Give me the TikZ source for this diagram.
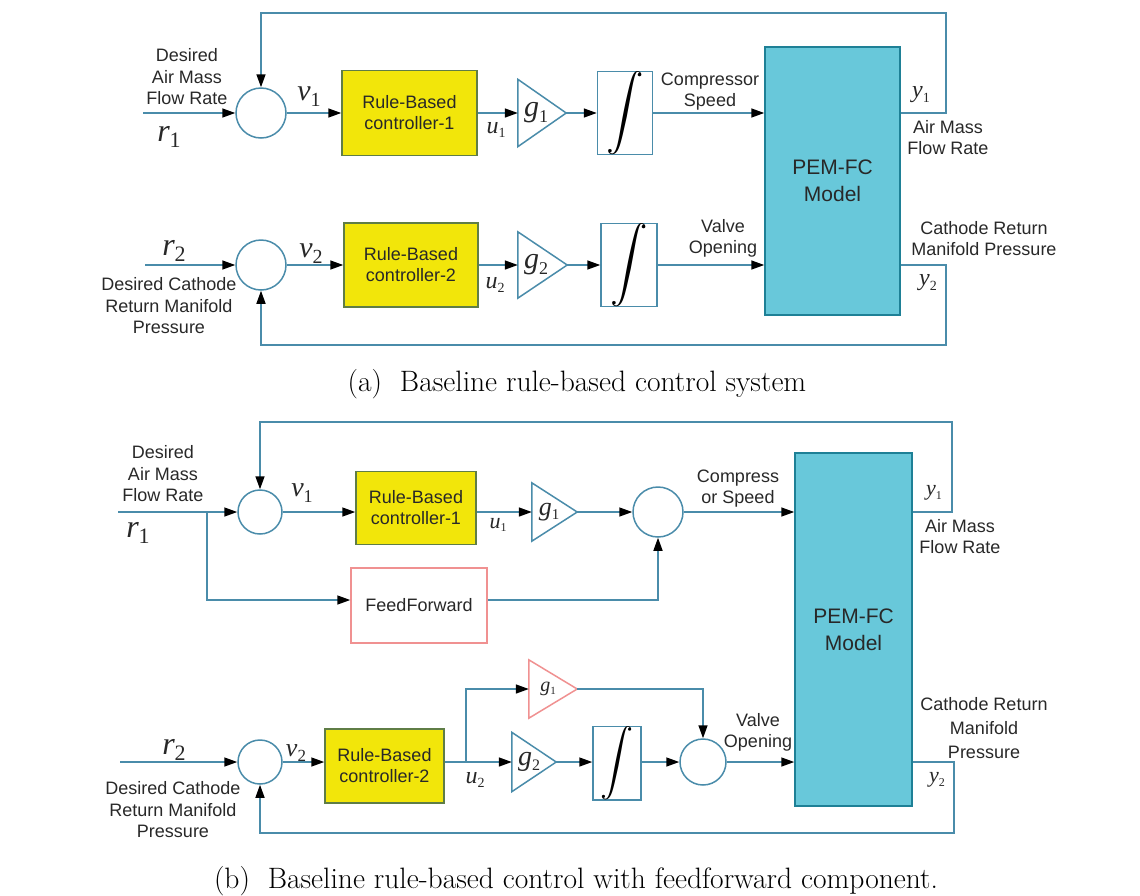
\documentclass[tikz,border=0pt]{standalone}
\usepackage{fontspec}
\usepackage{graphicx}
\usetikzlibrary{arrows.meta}
\newfontfamily\lfont{Liberation Sans}
\newfontfamily\mfont{Liberation Serif}
\definecolor{linec}{RGB}{74,140,170}
\definecolor{ctrly}{RGB}{242,230,10}
\definecolor{ctrlb}{RGB}{95,125,70}
\definecolor{pemf}{RGB}{104,200,218}
\definecolor{pemb}{RGB}{30,128,150}
\definecolor{pinkc}{RGB}{240,145,145}
\definecolor{txt}{RGB}{40,40,40}
\newcommand\ml[4]{{\mfont\itshape\fontsize{#1}{#1}\selectfont #3}{\mfont\fontsize{#2}{#2}\selectfont\raisebox{-0.3em}{#4}}}
\newcommand\intsym[1]{\resizebox{!}{#1}{$\displaystyle\int$}}
\tikzset{
  ln/.style={draw=linec, line width=1.5pt},
  arr/.style={ln, -{Triangle[color=black,fill=black,length=13pt,width=9pt]}},
  sumc/.style={circle, draw=linec, line width=1.5pt, fill=white, inner sep=0pt, minimum size=#1},
  ctrl/.style={draw=ctrlb, fill=ctrly, line width=1.5pt, align=center, text=txt,
               font=\lfont\fontsize{18}{21}\selectfont, inner sep=0pt},
  blk/.style={draw=linec, line width=1.5pt, fill=white, inner sep=0pt},
  ffb/.style={draw=pinkc, line width=1.5pt, fill=white, inner sep=0pt, text=txt,
              font=\lfont\fontsize{18}{21}\selectfont},
  pem/.style={draw=pemb, fill=pemf, line width=1.5pt, align=center, text=txt,
              font=\lfont\fontsize{21}{27}\selectfont, inner sep=0pt},
  gainb/.style={inner sep=0pt},
  tri/.style={ln, fill=white},
  lab/.style={font=\lfont\fontsize{18}{21.5}\selectfont, align=center, text=txt, inner sep=0pt},
  mlab/.style={text=txt, inner sep=0pt},
  captxt/.style={font=\fontsize{29.5}{29.5}\selectfont, inner sep=0pt, text=black},
}
\begin{document}
\begin{tikzpicture}[x=1pt,y=-1pt]
\useasboundingbox (0,0) rectangle (1140,895);

% ================= (a) =================
\node[sumc=50] (aS1) at (261,113) {};
\node[sumc=50] (aS2) at (261,265) {};
\node[ctrl, minimum width=135, minimum height=85] (aC1) at (409.5,113) {Rule-Based\\controller-1};
\node[ctrl, minimum width=134, minimum height=84] (aC2) at (411,265) {Rule-Based\\controller-2};
\node[gainb, minimum width=48, minimum height=67] (aG1) at (542,113) {};
\node[gainb, minimum width=49, minimum height=66] (aG2) at (542.5,265) {};
\draw[tri] (aG1.north west) -- (aG1.east) -- (aG1.south west) -- cycle;
\draw[tri] (aG2.north west) -- (aG2.east) -- (aG2.south west) -- cycle;
\node[mlab] (aG1t) at (536,113) {\ml{30}{18}{g}{1}};
\node[mlab] (aG2t) at (536,265) {\ml{30}{18}{g}{2}};
\node[blk, minimum width=55, minimum height=68] (aI1) at (625,113) {\intsym{51pt}};
\node[blk, minimum width=56, minimum height=67] (aI2) at (629,265) {\intsym{51pt}};
\node[pem, minimum width=135, minimum height=268] (aP) at (832.5,181) {PEM-FC\\Model};

\coordinate (aIn1) at (143,113);
\coordinate (aIn2) at (145,265);
\coordinate (aTR) at (946,13);
\coordinate (aTL) at (261,13);
\coordinate (aBR) at (946,345);
\coordinate (aBL) at (261,345);

\draw[arr] (aIn1) -- (aS1.west);
\draw[arr] (aS1.east) -- (aC1.west);
\draw[arr] (aC1.east) -- (aG1.west);
\draw[arr] (aG1.east) -- (aI1.west);
\draw[arr] (aI1.east) -- (aP.west |- aI1);
\draw[arr] (aP.east |- aS1) -- (aTR |- aS1) -- (aTR) -- (aTL) -- (aS1.north);

\draw[arr] (aIn2) -- (aS2.west);
\draw[arr] (aS2.east) -- (aC2.west);
\draw[arr] (aC2.east) -- (aG2.west);
\draw[arr] (aG2.east) -- (aI2.west);
\draw[arr] (aI2.east) -- (aP.west |- aI2);
\draw[arr] (aP.east |- aS2) -- (aBR |- aS2) -- (aBR) -- (aBL) -- (aS2.south);

\node[lab] (aT1) at (187,77) {Desired\\Air Mass\\Flow Rate};
\node[mlab] (ar1) at (169,137) {\ml{32}{22}{r}{1}};
\node[mlab] (av1) at (309,97) {\ml{30}{20}{v}{1}};
\node[mlab] (au1) at (496,130) {\ml{24}{14}{u}{1}};
\node[lab] (aCS) at (710,91.5) {Compressor\\Speed};
\node[mlab] (ay1) at (921,95) {\ml{24}{14}{y}{1}};
\node[lab] (aAM) at (948,137.5) {Air Mass\\Flow Rate};

\node[mlab] (ar2) at (174,251) {\ml{32}{22}{r}{2}};
\node[mlab] (av2) at (311,254) {\ml{30}{20}{v}{2}};
\node[mlab] (au2) at (495,285) {\ml{24}{14}{u}{2}};
\node[lab] (aVO) at (723,238.5) {Valve\\Opening};
\node[lab] (aCR) at (984,238.5) {Cathode Return\\Manifold Pressure};
\node[mlab] (ay2) at (928,283) {\ml{24}{14}{y}{2}};
\node[lab] (aT2) at (169,306) {Desired Cathode\\Return Manifold\\Pressure};

\node[captxt] (capA) at (577,384) {(a)\ \ Baseline rule-based control system};

% ================= (b) =================
\node[sumc=44] (bS1) at (260,512) {};
\node[sumc=50] (bS2) at (658,512) {};
\node[sumc=44] (bS3) at (260,762) {};
\node[sumc=46] (bS4) at (703,762) {};
\node[ctrl, minimum width=120, minimum height=73] (bC1) at (416,508) {Rule-Based\\controller-1};
\node[ctrl, minimum width=119, minimum height=74] (bC2) at (384.5,766) {Rule-Based\\controller-2};
\node[ffb, minimum width=136, minimum height=75] (bFF) at (419,605.5) {FeedForward};
\node[gainb, minimum width=45, minimum height=58] (bG1) at (554.5,512) {};
\node[gainb, minimum width=44, minimum height=59] (bG2) at (534,762) {};
\node[gainb, minimum width=48, minimum height=58] (bG3) at (553,689) {};
\draw[tri] (bG1.north west) -- (bG1.east) -- (bG1.south west) -- cycle;
\draw[tri] (bG2.north west) -- (bG2.east) -- (bG2.south west) -- cycle;
\draw[tri, draw=pinkc] (bG3.north west) -- (bG3.east) -- (bG3.south west) -- cycle;
\node[mlab] (bG1t) at (549,512) {\ml{26}{15}{g}{1}};
\node[mlab] (bG2t) at (529,762) {\ml{28}{16}{g}{2}};
\node[mlab] (bG3t) at (548,689) {\ml{20}{11}{g}{1}};
\node[blk, minimum width=48, minimum height=60] (bI) at (617,763) {\intsym{45pt}};
\node[pem, minimum width=117, minimum height=353] (bP) at (853.5,629.5) {PEM-FC\\Model};

\coordinate (bIn1) at (118,512);
\coordinate (bBr1) at (207,512);
\coordinate (bFFc) at (207,600);
\coordinate (bTR) at (952,422);
\coordinate (bTL) at (260,422);
\coordinate (bIn2) at (120,762);
\coordinate (bBr2) at (466,762);
\coordinate (bBR) at (954,833);
\coordinate (bBL) at (260,833);

\draw[arr] (bIn1) -- (bS1.west);
\draw[arr] (bBr1) -- (bFFc) -- (bFF.west |- bFFc);
\draw[arr] (bFF.east |- bFFc) -- (bS2 |- bFFc) -- (bS2.south);
\draw[arr] (bS1.east) -- (bC1.west |- bS1);
\draw[arr] (bC1.east |- bS1) -- (bG1.west);
\draw[arr] (bG1.east) -- (bS2.west);
\draw[arr] (bS2.east) -- (bP.west |- bS2);
\draw[arr] (bP.east |- bS2) -- (bTR |- bS2) -- (bTR) -- (bTL) -- (bS1.north);

\draw[arr] (bIn2) -- (bS3.west);
\draw[arr] (bS3.east) -- (bC2.west |- bS3);
\draw[arr] (bC2.east |- bS3) -- (bG2.west);
\draw[arr] (bBr2) -- (bBr2 |- bG3) -- (bG3.west);
\draw[arr] (bG2.east) -- (bI.west |- bG2);
\draw[arr] (bI.east |- bS4) -- (bS4.west);
\draw[arr] (bG3.east) -- (bS4 |- bG3) -- (bS4.north);
\draw[arr] (bS4.east) -- (bP.west |- bS4);
\draw[arr] (bP.east |- bS4) -- (bBR |- bS4) -- (bBR) -- (bBL) -- (bS3.south);

\node[lab] (bT1) at (163,474) {Desired\\Air Mass\\Flow Rate};
\node[mlab] (br1) at (138,533) {\ml{32}{22}{r}{1}};
\node[mlab] (bv1) at (302,493) {\ml{28}{18}{v}{1}};
\node[mlab] (bu1) at (498,525) {\ml{22}{12}{u}{1}};
\node[lab] (bCS) at (738,488.5) {Compress\\or Speed};
\node[mlab] (by1) at (934,493) {\ml{22}{12}{y}{1}};
\node[lab] (bAM) at (960,536.5) {Air Mass\\Flow Rate};

\node[mlab] (br2) at (174,750) {\ml{32}{22}{r}{2}};
\node[mlab] (bv2) at (296,753) {\ml{26}{17}{v}{2}};
\node[mlab] (bu2) at (475,780) {\ml{24}{14}{u}{2}};
\node[lab] (bVO) at (758,732.5) {Valve\\Opening};
\node[lab, font=\lfont\fontsize{18}{24}\selectfont] (bCR) at (984,728) {Cathode Return\\Manifold\\Pressure};
\node[mlab] (by2) at (937,780) {\ml{22}{12}{y}{2}};
\node[lab] (bT2) at (173,810) {Desired Cathode\\Return Manifold\\Pressure};

\node[captxt] (capB) at (576,881) {(b)\ \ Baseline rule-based control with feedforward component.};
\end{tikzpicture}
\end{document}
